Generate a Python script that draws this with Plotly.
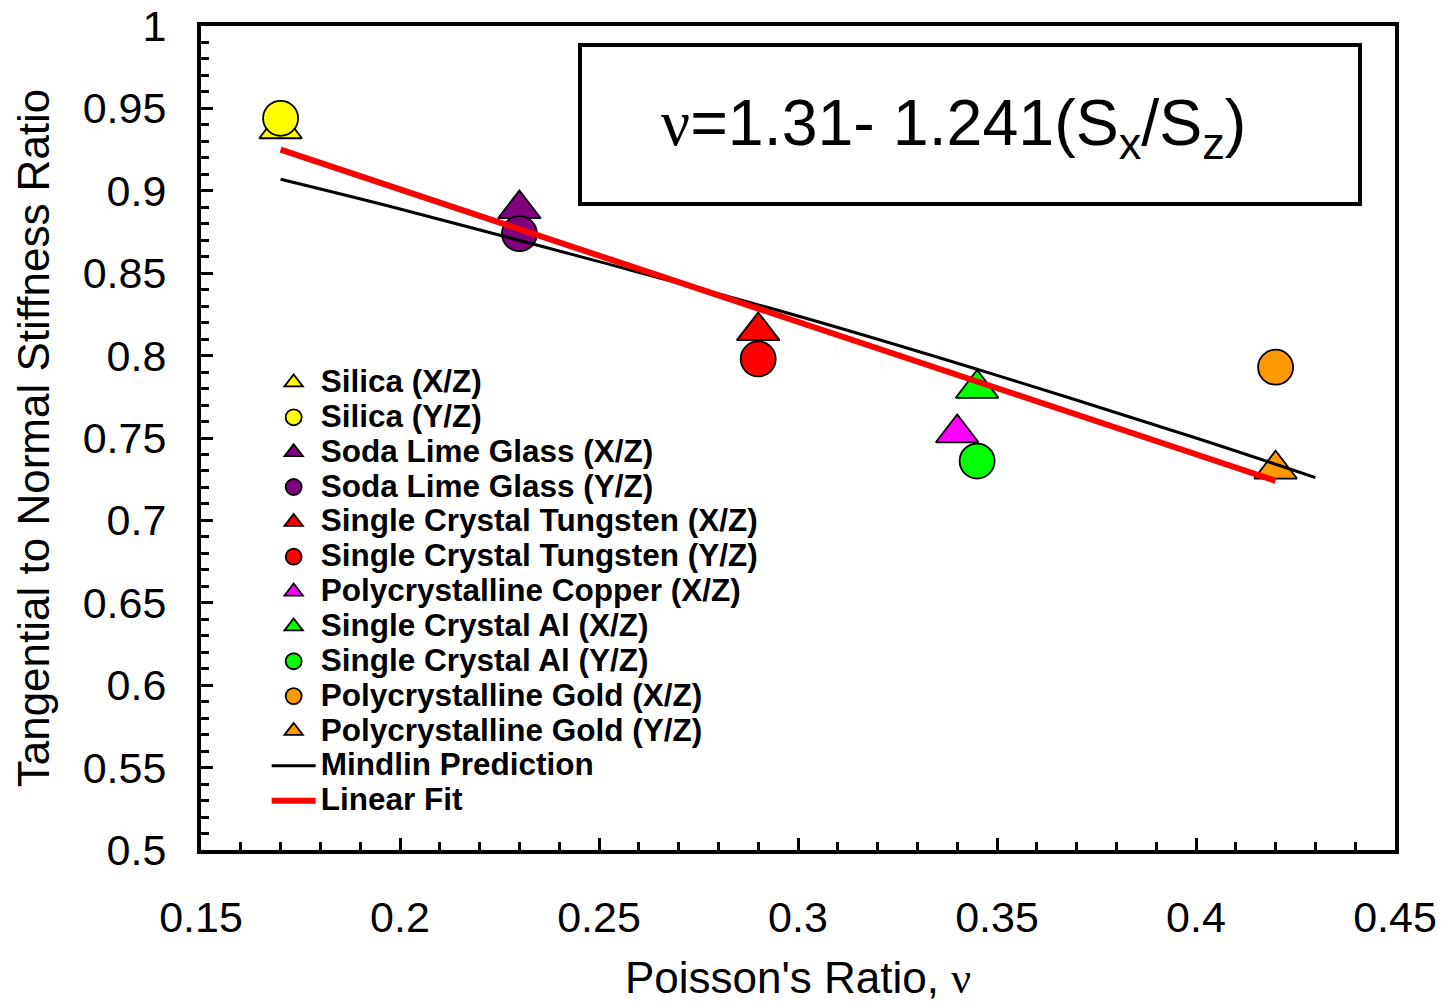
import plotly.graph_objects as go

# ---- data ----
series_names = [
    "Silica (X/Z)", "Silica (Y/Z)",
    "Soda Lime Glass (X/Z)", "Soda Lime Glass (Y/Z)",
    "Single Crystal Tungsten (X/Z)", "Single Crystal Tungsten (Y/Z)",
    "Polycrystalline Copper (X/Z)",
    "Single Crystal Al (X/Z)", "Single Crystal Al (Y/Z)",
    "Polycrystalline Gold (X/Z)", "Polycrystalline Gold (Y/Z)",
]
poisson = [0.17, 0.17, 0.23, 0.23, 0.29, 0.29, 0.34, 0.345, 0.345, 0.42, 0.42]
stiffness_ratio = [0.9375, 0.944, 0.889, 0.874, 0.815, 0.798, 0.753, 0.780, 0.736, 0.793, 0.731]
symbols = ["triangle-up", "circle", "triangle-up", "circle", "triangle-up", "circle",
           "triangle-up", "triangle-up", "circle", "circle", "triangle-up"]
colors = ["#FFFF00", "#FFFF00", "#800080", "#800080", "#FF0000", "#FF0000",
          "#FF00FF", "#00FF00", "#00FF00", "#FF9900", "#FF9900"]

mindlin_x = [0.17, 0.20, 0.25, 0.30, 0.35, 0.40, 0.43]
mindlin_y = [0.907, 0.889, 0.857, 0.824, 0.788, 0.750, 0.726]

fit_x = [0.17, 0.42]
fit_y = [0.925, 0.724]

y_tickvals = [0.5, 0.55, 0.6, 0.65, 0.7, 0.75, 0.8, 0.85, 0.9, 0.95, 1.0]
y_ticktext = ["0.5", "0.55", "0.6", "0.65", "0.7", "0.75", "0.8", "0.85", "0.9", "0.95", "1"]
x_tickvals = [0.15, 0.2, 0.25, 0.3, 0.35, 0.4, 0.45]
x_ticktext = ["0.15", "0.2", "0.25", "0.3", "0.35", "0.4", "0.45"]

FONT = "Liberation Sans, Arial, sans-serif"

fig = go.Figure()

def leg(name):
    return '<span style="font-size:31.5px"><b>' + name + '</b></span>'

for n, x, y, s, c in zip(series_names, poisson, stiffness_ratio, symbols, colors):
    fig.add_trace(go.Scatter(
        x=[x], y=[y], mode="markers", name=leg(n),
        marker=dict(symbol=s, size=35 if s == "circle" else 37, color=c,
                    line=dict(color="black", width=1.8)),
    ))

fig.add_trace(go.Scatter(x=mindlin_x, y=mindlin_y, mode="lines", name=leg("Mindlin Prediction"),
                         line=dict(color="black", width=3, shape="spline")))
fig.add_trace(go.Scatter(x=fit_x, y=fit_y, mode="lines", name=leg("Linear Fit"),
                         line=dict(color="#FF0000", width=6)))

fig.update_layout(
    width=1445, height=1003,
    margin=dict(l=201, r=50, t=26, b=153),
    paper_bgcolor="white", plot_bgcolor="white",
    font=dict(family=FONT, color="black", size=43),
    showlegend=True,
    legend=dict(
        x=0.055, y=0.5946, xanchor="left", yanchor="top",
        bgcolor="rgba(0,0,0,0)", font=dict(size=24.5, family=FONT, color="black"),
        itemwidth=44, tracegroupgap=0,
    ),
)

fig.update_xaxes(
    range=[0.15, 0.45], tickvals=x_tickvals, ticktext=x_ticktext,
    showgrid=False, zeroline=False, automargin=False, ticklabeloverflow="allow",
    showline=True, linecolor="black", linewidth=4, mirror=True,
    ticks="inside", ticklen=12, tickwidth=3, tickcolor="black",
    tickfont=dict(size=43, family=FONT), ticklabelstandoff=26,
    minor=dict(dtick=0.01, ticks="inside", ticklen=8, tickwidth=3, tickcolor="black", showgrid=False),
    title=dict(text='Poisson\'s Ratio, <span style="font-family:Liberation Serif">ν</span>',
               font=dict(size=44, family=FONT), standoff=25),
)
fig.update_yaxes(
    range=[0.5, 1.0], tickvals=y_tickvals, ticktext=y_ticktext,
    showgrid=False, zeroline=False, automargin=False, ticklabeloverflow="allow",
    showline=True, linecolor="black", linewidth=4, mirror=True,
    ticks="inside", ticklen=12, tickwidth=3, tickcolor="black",
    tickfont=dict(size=43, family=FONT), ticklabelstandoff=22,
    minor=dict(dtick=0.01, ticks="inside", ticklen=8, tickwidth=3, tickcolor="black", showgrid=False),
    title=dict(text="Tangential to Normal Stiffness Ratio", font=dict(size=44, family=FONT), standoff=20),
)

fig.add_shape(type="rect", xref="paper", yref="paper",
              x0=0.3174, x1=0.9707, y0=0.784, y1=0.977,
              line=dict(color="black", width=4), fillcolor="rgba(0,0,0,0)")
fig.add_annotation(
    xref="paper", yref="paper", x=0.63, y=0.876, xanchor="center", yanchor="middle",
    showarrow=False,
    text='<span style="font-family:Liberation Serif">ν</span>=1.31- 1.241(S<sub>x</sub>/S<sub>z</sub>)',
    font=dict(size=64.5, family=FONT, color="black"),
)

fig.write_html("out.html", config={"displayModeBar": False},
               post_script="document.body.style.margin='0px';")
